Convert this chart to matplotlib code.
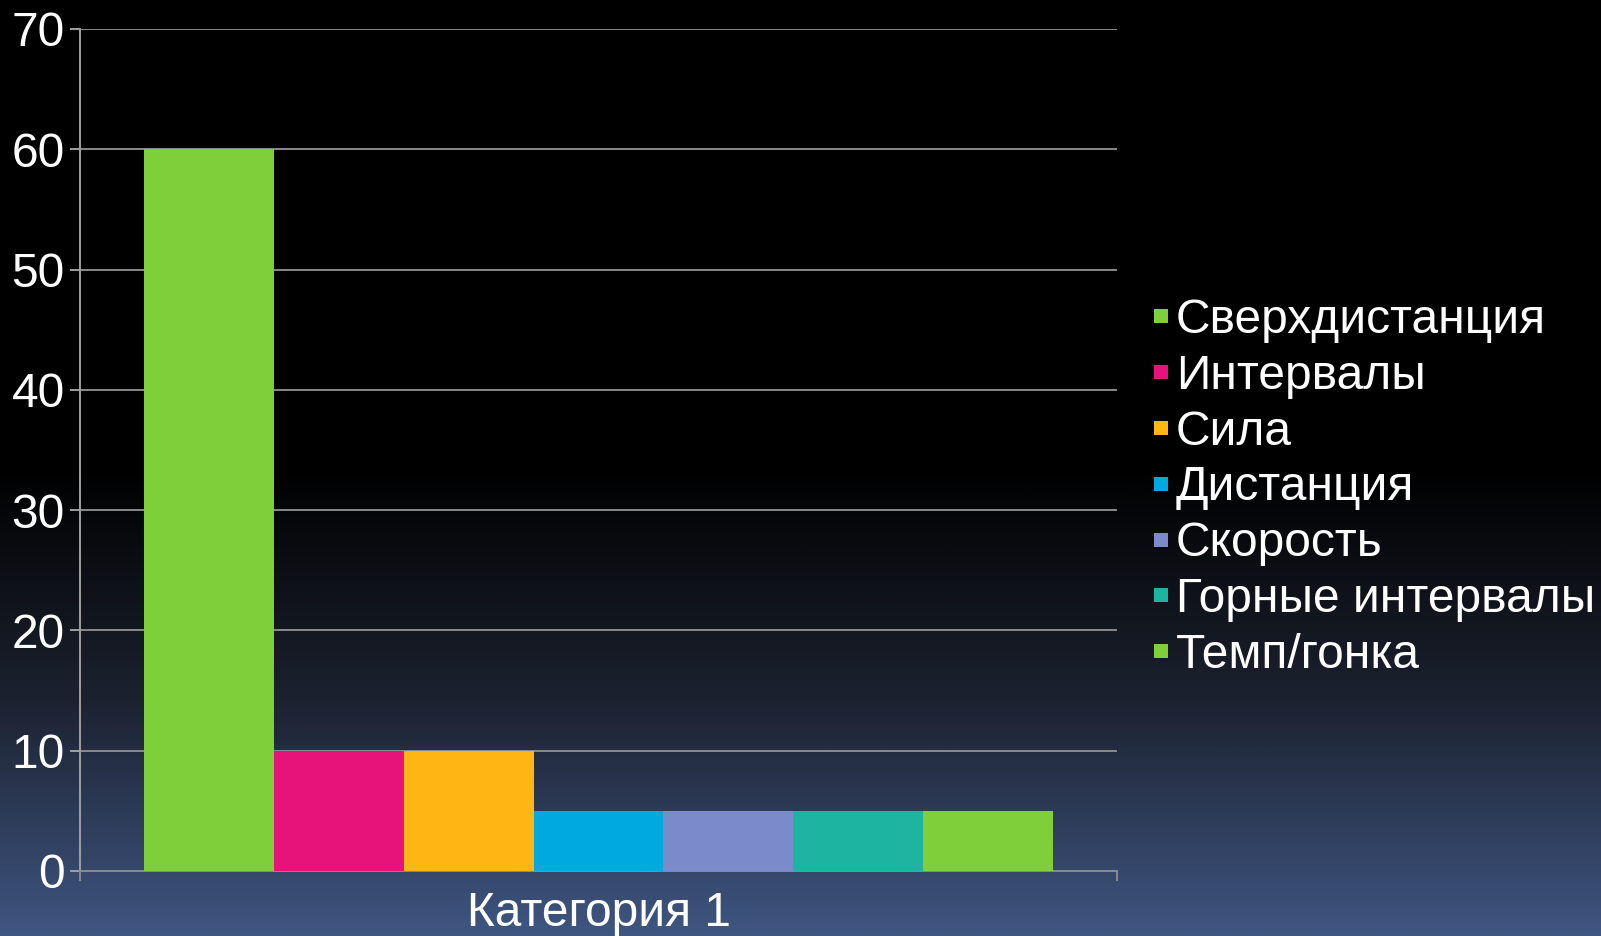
import numpy as np
import matplotlib
matplotlib.use('Agg')
import matplotlib.pyplot as plt
from matplotlib.colors import LinearSegmentedColormap
from matplotlib.lines import Line2D

# ─── Data ───
category = "Категория 1"
series_names = ["Сверхдистанция", "Интервалы", "Сила", "Дистанция",
                "Скорость", "Горные интервалы", "Темп/гонка"]
series_values = [60, 10, 10, 5, 5, 5, 5]
series_colors = ["#7ecf3a", "#e8137a", "#fdb614", "#00a9df",
                 "#7b8acb", "#1db4a2", "#7ecf3a"]
y_ticks = [0, 10, 20, 30, 40, 50, 60, 70]

plt.rcParams['font.family'] = ['Liberation Sans', 'DejaVu Sans']
FS = 34.5

W, H = 1601, 936
fig = plt.figure(figsize=(W / 100, H / 100), dpi=100)

# Background: black on top, fading to slate blue at the bottom
bg = fig.add_axes([0, 0, 1, 1], zorder=0)
bg_cmap = LinearSegmentedColormap.from_list(
    "bg", [(0.0, "#000000"), (0.50, "#000000"), (0.75, "#1c2230"), (1.0, "#3f5681")])
grad = np.linspace(0, 1, 512).reshape(-1, 1)
bg.imshow(grad, aspect="auto", cmap=bg_cmap, extent=[0, 1, 0, 1], origin="upper")
bg.set_axis_off()

# Plot area
left, right = 80 / W, 1117 / W
bottom, top = 1 - 871 / H, 1 - 29 / H
ax = fig.add_axes([left, bottom, right - left, top - bottom], zorder=1)
ax.patch.set_alpha(0)

n = len(series_values)
group_frac = 0.876
bar_w = group_frac / n
offsets = (np.arange(n) - (n - 1) / 2) * bar_w
for off, val, col, name in zip(offsets, series_values, series_colors, series_names):
    ax.bar(off, val, width=bar_w, color=col, label=name, zorder=3, linewidth=0)

ax.set_xlim(-0.5, 0.5)
ax.set_ylim(0, 70)
ax.set_yticks(y_ticks)
ax.set_yticklabels([str(t) for t in y_ticks])
ax.set_xticks([-0.5, 0.5])
ax.set_xticklabels(["", ""])
ax.grid(axis="y", color="#8a8a8a", linewidth=1.4, zorder=1)

for side in ["top", "right"]:
    ax.spines[side].set_visible(False)
ax.spines["left"].set_color("#a0a0a0")
ax.spines["bottom"].set_color("#8a8a8a")
ax.spines["left"].set_linewidth(1.4)
ax.spines["bottom"].set_linewidth(1.4)
ax.tick_params(axis="y", colors="#a0a0a0", length=7, width=1.4, labelcolor="white",
               labelsize=FS, pad=4)
ax.tick_params(axis="x", colors="#8a8a8a", length=7, width=1.4)

fig.text((left + right) / 2, 1 - 914 / H, category, color="white", fontsize=FS,
         ha="center", va="center")

handles = [Line2D([], [], marker="s", linestyle="none", markersize=10,
                  markerfacecolor=c, markeredgewidth=0) for c in series_colors]
leg = fig.legend(handles, series_names, loc="center left",
                 bbox_to_anchor=(1127 / W, 1 - 488 / H), frameon=False,
                 fontsize=FS, labelcolor="white", handlelength=0.4,
                 handletextpad=0.12, labelspacing=0.225, borderpad=0)

fig.savefig("out.png", dpi=100)
